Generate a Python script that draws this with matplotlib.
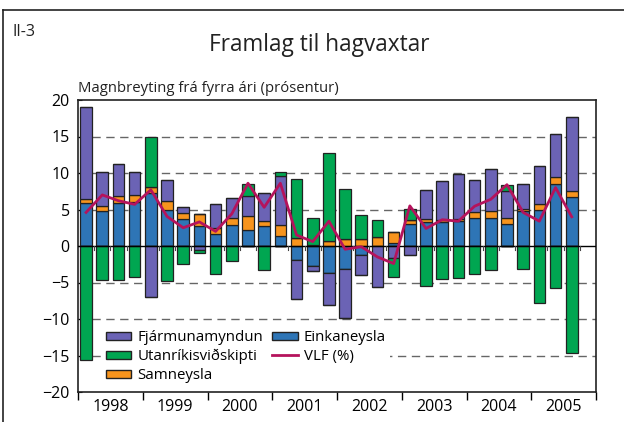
import matplotlib
matplotlib.use("Agg")
import matplotlib.pyplot as plt
import numpy as np
from matplotlib.lines import Line2D
from matplotlib.patches import Patch

plt.rcParams['font.family'] = ['Open Sans', 'DejaVu Sans']

years = ['1998', '1999', '2000', '2001', '2002', '2003', '2004', '2005']

# Quarterly contributions 1998Q1 - 2005Q3
einkaneysla = [5.9, 4.8, 5.9, 6.0, 7.2, 4.95, 3.7, 2.8,
               1.7, 2.9, 2.2, 2.8, 1.4, -1.9, -2.7, -3.7,
               -3.1, -1.2, 0.0, 0.4, 3.0, 3.3, 3.3, 3.4,
               3.9, 3.9, 3.0, 4.8, 5.0, 8.5, 6.7]
samneysla = [0.6, 0.7, 1.0, 1.0, 0.9, 1.25, 0.8, 1.6,
             0.8, 0.9, 1.9, 0.6, 1.5, 1.1, 0.1, 0.7,
             0.9, 0.95, 1.3, 1.5, 0.5, 0.4, 0.3, 0.3,
             0.8, 0.9, 0.8, 0.3, 0.7, 0.9, 0.9]
fjarmunamyndun = [12.5, 4.7, 4.4, 3.1, -7.0, 2.8, 0.9, -0.6,
                  3.3, 2.8, 2.7, 3.8, 6.7, -5.4, -0.7, -4.4,
                  -6.7, -2.8, -5.6, -1.7, -1.3, 4.0, 5.3, 6.1,
                  4.3, 5.7, 3.8, 3.4, 5.2, 6.0, 10.1]
utanrikis = [-15.6, -4.6, -4.7, -4.3, 6.9, -4.8, -2.5, -0.3,
             -3.8, -2.1, 1.7, -3.3, 0.5, 8.1, 3.7, 12.0,
             6.9, 3.35, 2.2, -2.6, 1.6, -5.5, -4.5, -4.4,
             -3.9, -3.3, 0.8, -3.1, -7.8, -5.7, -14.6]
vlf = [4.6, 7.0, 6.2, 5.7, 7.7, 4.05, 2.5, 3.3,
       2.0, 4.4, 8.6, 5.3, 8.6, 1.5, 0.6, 3.4,
       -0.45, -0.1, -1.5, -2.4, 5.5, 2.4, 3.6, 3.4,
       5.45, 6.4, 8.4, 4.6, 3.4, 8.0, 4.0]

c_blue = '#2E75B6'
c_orange = '#F7941D'
c_purple = '#6B63B5'
c_green = '#00A651'
c_line = '#B5135C'

fig = plt.figure(figsize=(6.24, 4.22), dpi=100)
ax = fig.add_axes([78/624, 1-392/422, (596-78)/624, (392-100)/422])

n = len(vlf)
x = np.arange(n) + 0.5
series = [(einkaneysla, c_blue), (samneysla, c_orange),
          (fjarmunamyndun, c_purple), (utanrikis, c_green)]
pos_base = np.zeros(n)
neg_base = np.zeros(n)
for vals, col in series:
    v = np.array(vals, dtype=float)
    pos = np.where(v > 0, v, 0)
    neg = np.where(v < 0, v, 0)
    ax.bar(x, pos, bottom=pos_base, width=0.72, color=col,
           edgecolor='#222222', linewidth=0.9, zorder=3)
    ax.bar(x, neg, bottom=neg_base, width=0.72, color=col,
           edgecolor='#222222', linewidth=0.9, zorder=3)
    pos_base += pos
    neg_base += neg

ax.plot(x, vlf, color=c_line, linewidth=2.0, zorder=4)
ax.axhline(0, color='black', linewidth=1.0, zorder=3.5)

ax.set_xlim(0, 32)
ax.set_ylim(-20, 20)
ax.set_yticks(range(-20, 21, 5))
for yv in [-15, -10, -5, 5, 10, 15]:
    ax.axhline(yv, color='#666666', linewidth=1.0, dashes=(6, 4), zorder=1)

ax.set_xticks(np.arange(0, 33, 4))
ax.set_xticklabels([])
ax.set_xticks(np.arange(2, 32, 4), minor=True)
ax.set_xticklabels(years, minor=True)
ax.tick_params(axis='x', which='major', direction='out', length=6, width=1)
ax.tick_params(axis='x', which='minor', length=0, labelsize=11.5, pad=5)
ax.tick_params(axis='y', direction='in', length=3, labelsize=11.5, pad=6)

# quarter ticks on zero line
for q in range(1, 32):
    if q % 4 != 0:
        ax.plot([q, q], [0, -0.6], color='#444444', linewidth=0.8, zorder=3.6)

for s in ax.spines.values():
    s.set_linewidth(1.2)
    s.set_color('#222222')

handles = [Patch(facecolor=c_purple, edgecolor='#222222', label='Fjármunamyndun'),
           Patch(facecolor=c_green, edgecolor='#222222', label='Utanríkisviðskipti'),
           Patch(facecolor=c_orange, edgecolor='#222222', label='Samneysla'),
           Patch(facecolor=c_blue, edgecolor='#222222', label='Einkaneysla'),
           Line2D([0], [0], color=c_line, linewidth=2, label='VLF (%)')]
leg = ax.legend(handles=handles, ncol=2, loc='lower left',
                bbox_to_anchor=(0.045, 0.015), frameon=True, fontsize=10.8,
                handlelength=1.7, handleheight=0.45, labelspacing=0.25,
                columnspacing=0.6, handletextpad=0.4, borderaxespad=0.0,
                borderpad=0.3, fancybox=False)
leg.get_frame().set_facecolor('white')
leg.get_frame().set_edgecolor('none')
leg.get_frame().set_alpha(1.0)
leg.set_zorder(2)

fig.text(319/624, 1-45/422, 'Framlag til hagvaxtar', ha='center', va='center',
         fontsize=16.3, color='#222222')
fig.text(12/624, 1-32/422, 'II-3', ha='left', va='center', fontsize=11.5,
         color='#222222')
fig.text(78/624, 1-88/422, 'Magnbreyting frá fyrra ári (prósentur)', ha='left',
         va='center', fontsize=10.7, color='#222222')

# outer frame (top and left)
fig.add_artist(Line2D([3/624, 1], [1-10/422, 1-10/422], color='#222222', linewidth=1.2))
fig.add_artist(Line2D([3/624, 3/624], [0, 1-10/422], color='#222222', linewidth=1.2))

fig.savefig('out.png', dpi=100)
